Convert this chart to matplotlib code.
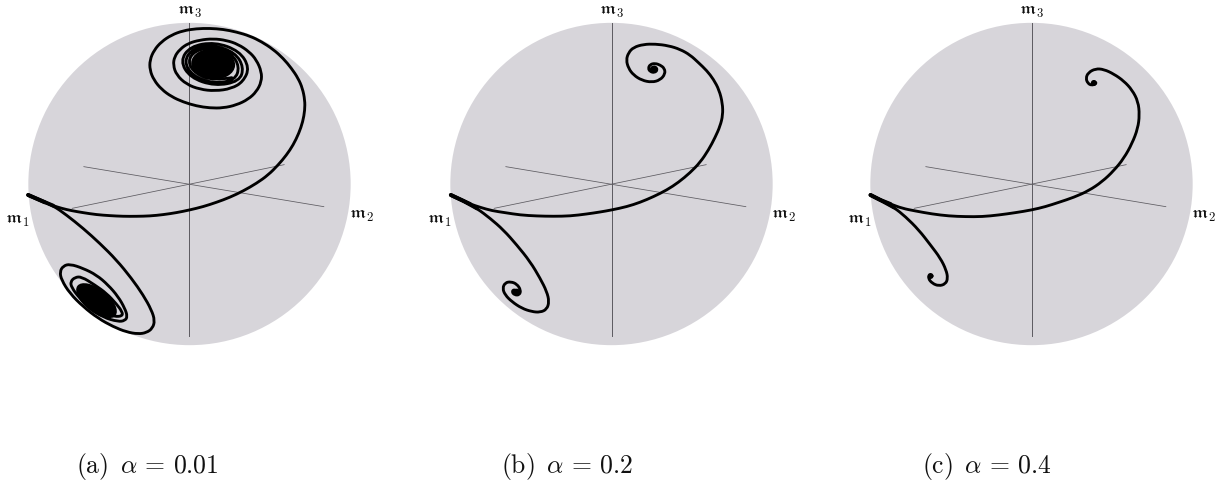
import numpy as np
import matplotlib
matplotlib.use("Agg")
import matplotlib.pyplot as plt
from matplotlib.patches import Circle, Ellipse, PathPatch
from matplotlib.path import Path

plt.rcParams['mathtext.fontset'] = 'cm'

captions = [r'$\mathrm{(a)}\ \,\alpha\,=\,0.01$', r'$\mathrm{(b)}\ \,\alpha\,=\,0.2$', r'$\mathrm{(c)}\ \,\alpha\,=\,0.4$']
caption_right = [219, 633, 1052]
centre_x_px = [189.5, 611.5, 1031.5]
sphere_centres = [(569, 552), (574, 552), (628, 552)]

# curves, in 3x crop units
a_upper_x = [85,110,135,160,185,215,250,290,330,370,410,450,490,530,569,610,650,690,730,770,805,835,860,880,897,909,915,915,908,895,875,850,820,785,750,710,670,630,590,550,515,485,463,450,450,462,485,515,550,590,630,670,710,745,770,785,785,770,748,715,680,640,600,565,540,524,520,530,560,600,645,695,730,749,719,645,571,541,571,645,719,732,706,642,578,552,578,642,706,719,696,641,586,563,586,641,696]
a_upper_y = [585,596,607,617,625,632,638,644,647,649,649,648,644,638,630,620,607,592,573,550,525,495,465,435,400,365,330,300,265,235,205,175,148,125,108,96,88,85,86,92,105,125,150,180,210,240,268,290,306,318,324,324,315,298,275,245,215,180,155,133,121,116,120,130,148,170,195,225,253,268,273,266,245,203,153,126,139,183,233,258,244,202,158,135,146,184,228,251,240,200,162,142,151,184,221,242,233]
a_lower_x = [85,120,160,200,250,300,350,395,430,455,465,458,440,415,380,340,295,250,210,185,180,190,210,250,290,325,355,375,383,375,355,310,270,238,215,212,225,245,285,320,350,367,368,345,310,270]
a_lower_y = [585,600,617,645,685,730,780,835,885,930,962,985,998,1002,996,980,955,920,880,840,815,798,792,805,825,855,890,925,950,962,965,952,925,893,862,845,832,830,855,880,912,935,948,950,940,915]

b_upper_x = [92,120,150,180,215,255,300,350,400,450,500,540,574,620,660,700,740,775,810,840,865,885,900,908,907,897,880,860,835,810,780,745,705,670,640,625,618,625,640,665,695,720,735,733,720,705,690,684,690,703,712,706,698,698,703]
b_upper_y = [585,598,612,622,632,638,645,648,649,648,642,636,630,620,607,590,570,547,518,487,450,412,378,345,310,270,238,212,188,165,148,137,132,133,142,158,180,205,225,241,247,240,222,205,195,190,193,205,215,218,210,200,203,210,210]
b_lower_x = [92,130,170,210,250,290,330,360,380,387,380,360,335,305,275,255,247,255,272,290,302,298,283,275,282,292,290]
b_lower_y = [585,603,625,655,690,735,785,835,875,905,928,937,935,925,905,885,865,848,845,852,870,885,885,875,868,875,880]

c_upper_x = [145,175,205,240,280,330,380,430,480,530,580,628,670,710,755,800,840,875,905,930,947,952,948,930,905,875,845,820,798,791,797,808,820,822,815]
c_upper_y = [585,600,612,625,633,642,648,650,650,645,638,630,620,607,592,572,545,512,475,430,385,345,305,270,243,222,208,206,218,235,250,256,252,247,245]
c_lower_x = [145,180,215,250,290,325,355,372,377,370,350,330,318,322,330]
c_lower_y = [585,603,622,650,690,735,775,810,835,852,858,850,835,825,828]

upper_curves = [(a_upper_x, a_upper_y), (b_upper_x, b_upper_y), (c_upper_x, c_upper_y)]
lower_curves = [(a_lower_x, a_lower_y), (b_lower_x, b_lower_y), (c_lower_x, c_lower_y)]

# converged orbits: centre x, centre y, width, height, angle
cores = [[(640, 192, 132, 92, -4), (290, 902, 145, 70, -38)],
         [(700, 208, 22, 22, 0), (290, 876, 20, 20, 0)],
         [(815, 249, 18, 18, 0), (325, 828, 18, 18, 0)]]

sphere_colour = '#d7d5da'
axis_colour = '#5c5a60'
W, H = 1222, 487


def smooth_path(x, y):
    # read points act as quadratic control points, so the drawn line has no corners
    pts = np.column_stack([x, y])
    verts = [pts[0]]
    codes = [Path.MOVETO]
    for j in range(1, len(pts) - 1):
        end = pts[j + 1] if j == len(pts) - 2 else (pts[j] + pts[j + 1]) / 2
        verts += [pts[j], end]
        codes += [Path.CURVE3, Path.CURVE3]
    return Path(verts, codes)


fig = plt.figure(figsize=(W / 100, H / 100), dpi=100, facecolor='white')

for i in range(3):
    cx_px = centre_x_px[i]
    ax = fig.add_axes([(cx_px - 205) / W, 1 - (184 + 184) / H, 410 / W, 368 / H])
    ax.set_xlim(-615, 615)
    ax.set_ylim(-552, 552)
    ax.axis('off')

    cx, cy = sphere_centres[i]
    ax.add_patch(Circle((0, 0), 483.5, color=sphere_colour, lw=0, zorder=1))

    ax.plot([0, 0], [484, -456], color=axis_colour, lw=0.7, zorder=2)
    ax.plot([-317, 403], [52, -68], color=axis_colour, lw=0.55, zorder=2)
    ax.plot([-352, 284], [-73, 58], color=axis_colour, lw=0.55, zorder=2)

    for xs, ys in (upper_curves[i], lower_curves[i]):
        x = np.array(xs) - cx
        y = cy - np.array(ys)
        ax.add_patch(PathPatch(smooth_path(x, y), fill=False, edgecolor='black', lw=2.05,
                               capstyle='round', joinstyle='round', zorder=3))
        ax.plot(x[:3], y[:3], color='black', lw=2.8, solid_capstyle='round', zorder=3)

    for ex, ey, w, h, ang in cores[i]:
        ax.add_patch(Ellipse((ex - cx, cy - ey), w, h, angle=ang, color='black', lw=0, zorder=4))

    ax.text(0, 520, r'$\mathfrak{m}_3$', ha='center', va='center', fontsize=13, color='#111111')
    ax.text(-517, -108, r'$\mathfrak{m}_1$', ha='center', va='center', fontsize=13, color='#111111')
    ax.text(515, -93, r'$\mathfrak{m}_2$', ha='center', va='center', fontsize=13, color='#111111')

    fig.text(caption_right[i] / W, 1 - 466 / H, captions[i], ha='right', va='center', fontsize=18.5, color='#111111')

fig.savefig('out.png', dpi=100)
